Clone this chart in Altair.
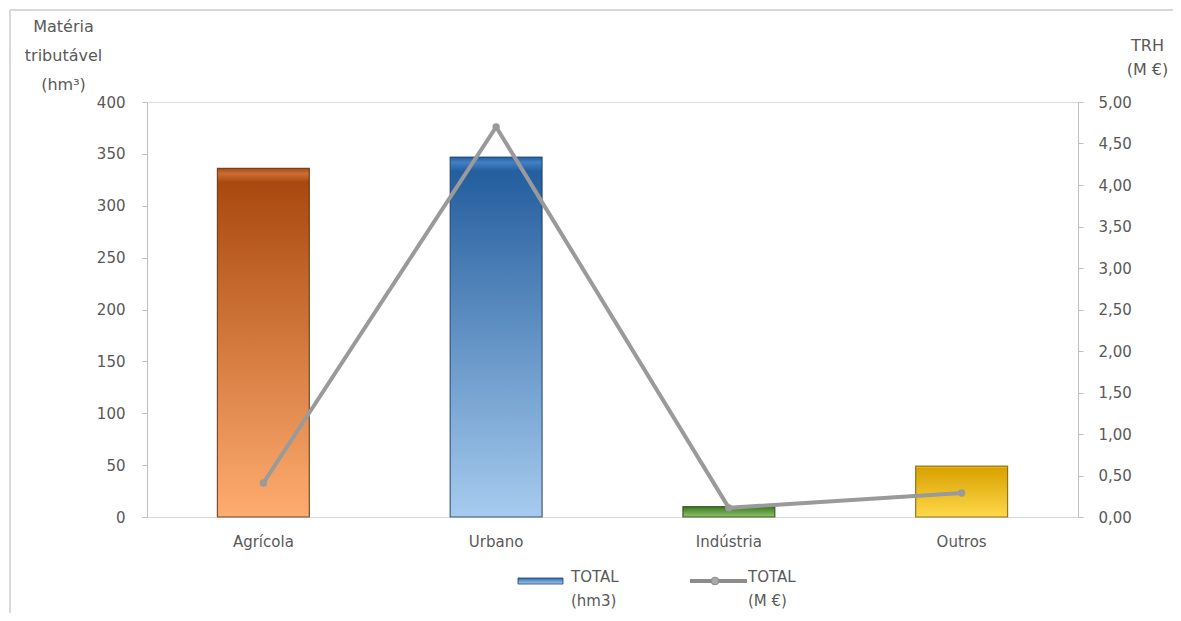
import altair as alt
import pandas as pd

categories = ["Agrícola", "Urbano", "Indústria", "Outros"]
volume_hm3 = [336, 347, 10, 49]
trh_meur = [0.41, 4.70, 0.11, 0.29]
left_ticks = [0, 50, 100, 150, 200, 250, 300, 350, 400]
right_ticks = [0, 0.5, 1, 1.5, 2, 2.5, 3, 3.5, 4, 4.5, 5]
legend_labels = ["TOTAL\n(hm3)", "TOTAL\n(M €)"]

bar_colors = {
    "Agrícola": ("#A9490F", "#CC6E32", "#FFAC70", "#5A2A0C"),
    "Urbano": ("#245E9E", "#4080C4", "#A6CBEE", "#1B3F68"),
    "Indústria": ("#3F7A22", "#62A03C", "#8DC56A", "#24470F"),
    "Outros": ("#D9A200", "#F6C410", "#FFD84A", "#7A5A00"),
}

df = pd.DataFrame({"cat": categories, "vol": volume_hm3, "trh": trh_meur})

FONT = "DejaVu Sans"
TXT = "#595959"
W, H = 931, 415

x_scale = alt.Scale(domain=categories, paddingInner=0.605, paddingOuter=0.3025)
x_enc = alt.X(
    "cat:N", sort=categories, scale=x_scale,
    axis=alt.Axis(title=None, labelAngle=0, ticks=False, domainColor="#D9D9D9",
                  labelPadding=17, labelFontSize=15, labelColor=TXT, labelFont=FONT),
)

y_left = alt.Y(
    "vol:Q", scale=alt.Scale(domain=[0, 400]),
    axis=alt.Axis(values=left_ticks, orient="left", grid=False,
                  domainColor="#BFBFBF", tickColor="#BFBFBF", tickSize=5,
                  labelFontSize=15, labelColor=TXT, labelFont=FONT, labelPadding=17,
                  title=["Matéria", "tributável", "(hm³)"], titleAngle=0,
                  titleAlign="center", titleBaseline="top", titleX=-84, titleY=-84,
                  titleFont=FONT, titleFontSize=16, titleFontWeight="normal",
                  titleColor=TXT, titleLineHeight=29),
)

bars = []
for c in categories:
    top, hi, bot, edge = bar_colors[c]
    grad = alt.Gradient(
        gradient="linear", x1=0, y1=0, x2=0, y2=1,
        stops=[alt.GradientStop(offset=0, color=top),
               alt.GradientStop(offset=0.015, color=hi),
               alt.GradientStop(offset=0.04, color=top),
               alt.GradientStop(offset=1, color=bot)],
    )
    b = alt.Chart(df).transform_filter(alt.datum.cat == c).mark_bar(
        color=grad, stroke=edge, strokeWidth=1.2, strokeOpacity=0.8
    ).encode(x=x_enc, y=y_left)
    bars.append(b)

bar_layer = alt.layer(*bars)

y_right = alt.Y(
    "trh:Q", scale=alt.Scale(domain=[0, 5]),
    axis=alt.Axis(values=right_ticks, orient="right", grid=False,
                  domainColor="#BFBFBF", tickColor="#BFBFBF", tickSize=5,
                  labelExpr="replace(format(datum.value, '.2f'), '.', ',')",
                  labelFontSize=15, labelColor=TXT, labelFont=FONT, labelPadding=15,
                  title=["TRH", "(M €)"], titleAngle=0,
                  titleAlign="center", titleBaseline="top", titleX=69, titleY=-65,
                  titleFont=FONT, titleFontSize=16, titleFontWeight="normal",
                  titleColor=TXT, titleLineHeight=24),
)

line = alt.Chart(df).mark_line(
    color="#9A9A9A", strokeWidth=4,
    point=alt.OverlayMarkDef(filled=True, color="#9A9A9A", size=55),
).encode(x=alt.X("cat:N", sort=categories, scale=x_scale), y=y_right)

main = alt.layer(bar_layer, line).resolve_scale(y="independent")

# custom legend
leg_df = pd.DataFrame({"label": legend_labels, "k": [0, 1]})
leg_bar = alt.Chart(leg_df).transform_filter(alt.datum.k == 0).mark_rect(
    color=alt.Gradient(gradient="linear", x1=0, y1=0, x2=0, y2=1,
                       stops=[alt.GradientStop(offset=0, color="#2E6CB0"),
                              alt.GradientStop(offset=1, color="#A6CBEE")]),
    stroke="#1B3F68", strokeWidth=0.8,
).encode(x=alt.value(371), x2=alt.value(416), y=alt.value(476), y2=alt.value(482))
leg_line = alt.Chart(leg_df).transform_filter(alt.datum.k == 1).mark_rule(
    color="#8C8C8C", strokeWidth=4
).encode(x=alt.value(543), x2=alt.value(600), y=alt.value(479))
leg_pt = alt.Chart(leg_df).transform_filter(alt.datum.k == 1).mark_circle(
    color="#A8A8A8", size=60, opacity=1, stroke="#8C8C8C", strokeWidth=1
).encode(x=alt.value(568), y=alt.value(479))
leg_txt0 = alt.Chart(leg_df).transform_filter(alt.datum.k == 0).mark_text(
    align="left", baseline="top", font=FONT, fontSize=15, color=TXT,
    lineBreak="\n", lineHeight=24,
).encode(x=alt.value(424), y=alt.value(468), text="label:N")
leg_txt1 = alt.Chart(leg_df).transform_filter(alt.datum.k == 1).mark_text(
    align="left", baseline="top", font=FONT, fontSize=15, color=TXT,
    lineBreak="\n", lineHeight=24,
).encode(x=alt.value(601), y=alt.value(468), text="label:N")

# outer chart frame
frame_top = alt.Chart(leg_df).transform_filter(alt.datum.k == 0).mark_rule(
    color="#D9D9D9", strokeWidth=2
).encode(x=alt.value(-137), x2=alt.value(1040), y=alt.value(-92))
frame_left = alt.Chart(leg_df).transform_filter(alt.datum.k == 0).mark_rule(
    color="#D9D9D9", strokeWidth=2
).encode(x=alt.value(-137), y=alt.value(-92), y2=alt.value(520))

chart = alt.layer(main, leg_bar, leg_line, leg_pt, leg_txt0, leg_txt1,
                  frame_top, frame_left).properties(
    width=W, height=H,
    autosize=alt.AutoSizeParams(type="none"),
    padding={"left": 139, "top": 94, "right": 95, "bottom": 96},
).configure_view(stroke="#D9D9D9", strokeWidth=1).configure(background="white")

chart.save("out.html", embed_options={"renderer": "svg", "actions": False})
